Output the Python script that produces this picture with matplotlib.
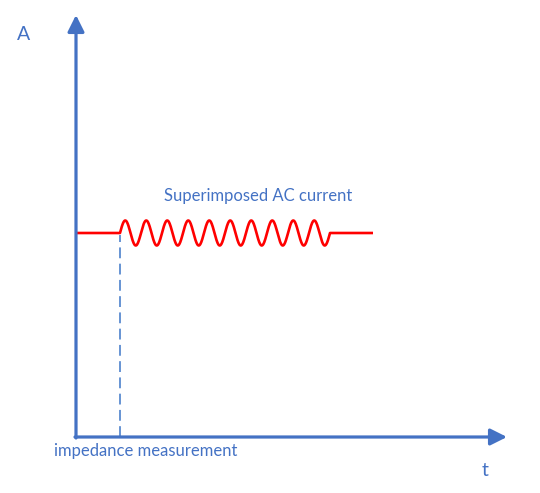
import numpy as np
import matplotlib.pyplot as plt

# schematic values (origin of the axes at 0, 0)
DC_LEVEL = 204
T_FLAT_START = 0
T_AC_START = 44
T_AC_END = 254
T_FLAT_END = 297
AC_CYCLES = 10
AC_AMPLITUDE = 12.5
X_AXIS_END = 431
Y_AXIS_END = 422

BLUE = "#4472C4"
RED = "#FF0000"

plt.rcParams["font.family"] = ["Lato", "DejaVu Sans"]

fig = plt.figure(figsize=(5.4, 4.93), dpi=100)
ax = fig.add_axes([0, 0, 1, 1])
ax.set_xlim(-76, 464)
ax.set_ylim(-56, 437)
ax.axis("off")

# current: flat DC, superimposed AC, flat DC
t_ac = np.linspace(T_AC_START, T_AC_END, 800)
i_ac = DC_LEVEL + AC_AMPLITUDE * np.sin(2 * np.pi * AC_CYCLES * (t_ac - T_AC_START) / (T_AC_END - T_AC_START))
t = np.concatenate([[T_FLAT_START], t_ac, [T_FLAT_END]])
i = np.concatenate([[DC_LEVEL], i_ac, [DC_LEVEL]])
ax.plot(t, i, color=RED, lw=1.9, solid_capstyle="butt", zorder=3)

# measurement marker
ax.plot([T_AC_START, T_AC_START], [0, DC_LEVEL - 2], color="#5B8BD0", lw=1.3,
        dashes=(6, 3), zorder=2)

# axes with arrows
arrow = dict(arrowstyle="-|>", color=BLUE, lw=2.3, mutation_scale=25, shrinkA=0, shrinkB=0)
ax.annotate("", xy=(X_AXIS_END, 0), xytext=(-1, 0), arrowprops=arrow, zorder=4)
ax.annotate("", xy=(0, Y_AXIS_END), xytext=(0, -1), arrowprops=arrow, zorder=4)

ax.text(-52, 402, "A", color=BLUE, fontsize=14, ha="center", va="center")
ax.text(409, -33, "t", color=BLUE, fontsize=14, ha="center", va="center")
ax.text(70, -14, "impedance measurement", color=BLUE, fontsize=12, ha="center", va="center")
ax.text(182, 241, "Superimposed AC current", color=BLUE, fontsize=12, ha="center", va="center")

fig.savefig("out.png", dpi=100)
